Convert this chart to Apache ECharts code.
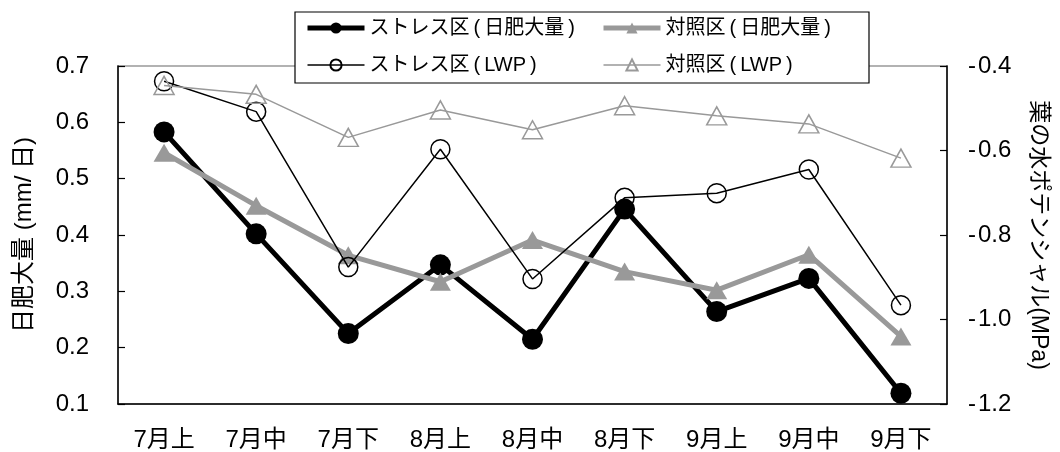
<!DOCTYPE html>
<html>
<head>
<meta charset="utf-8">
<script src="https://cdn.jsdelivr.net/npm/echarts@6/dist/echarts.min.js"></script>
<style>
  html, body { margin: 0; padding: 0; background: #fff; }
  #chart { width: 1060px; height: 452px; }
</style>
</head>
<body>
<div id="chart"></div>
<script>
// Ten-day periods (上旬・中旬・下旬) from July to September
const periods = ['7月上', '7月中', '7月下', '8月上', '8月中', '8月下', '9月上', '9月中', '9月下'];

// Daily stem growth (mm/日), left axis
const stressGrowth  = [0.583, 0.402, 0.225, 0.347, 0.215, 0.446, 0.264, 0.323, 0.119];
const controlGrowth = [0.546, 0.452, 0.364, 0.317, 0.391, 0.335, 0.302, 0.365, 0.220];

// Leaf water potential (MPa), right axis
const stressLWP  = [-0.436, -0.508, -0.876, -0.597, -0.904, -0.712, -0.701, -0.645, -0.966];
const controlLWP = [-0.446, -0.467, -0.569, -0.504, -0.551, -0.494, -0.518, -0.537, -0.618];

// Series names (thin spaces around the brackets)
const seriesNames = [
  'ストレス区\u2009(\u2009日肥大量\u2009)',
  '対照区\u2009(\u2009日肥大量\u2009)',
  'ストレス区\u2009(\u2009LWP\u2009)',
  '対照区\u2009(\u2009LWP\u2009)'
];

const FONT = '"Liberation Sans", Arial, "Noto Sans CJK JP", sans-serif';
const GRAY = '#999999';

const chart = echarts.init(document.getElementById('chart'), null, { renderer: 'canvas' });

const legendText = { color: '#000', fontFamily: FONT, fontSize: 20, lineHeight: 26 };
const legendBase = {
  z: 60, orient: 'vertical', top: 15, padding: 0,
  itemWidth: 57, itemHeight: 14, itemGap: 11,
  textStyle: legendText
};

chart.setOption({
  animation: false,
  backgroundColor: '#fff',
  textStyle: { fontFamily: FONT },
  grid: {
    left: 118, right: 113, top: 66, bottom: 48,
    show: true, borderColor: GRAY, borderWidth: 1.5, backgroundColor: 'transparent'
  },
  graphic: [{
    type: 'rect', z: 50,
    shape: { x: 295, y: 12, width: 574, height: 71 },
    style: { fill: '#fff', stroke: '#000', lineWidth: 1.2 }
  }],
  legend: [Object.assign({}, legendBase, {
    left: 305,
    data: [
      { name: seriesNames[0], lineStyle: { width: 5 } },
      { name: seriesNames[2], lineStyle: { width: 1.5 } }
    ]
  }), Object.assign({}, legendBase, {
    left: 601,
    data: [
      { name: seriesNames[1], lineStyle: { width: 5 } },
      { name: seriesNames[3], lineStyle: { width: 1.5 } }
    ]
  })],
  xAxis: {
    type: 'category',
    data: periods,
    boundaryGap: true,
    axisLine: { lineStyle: { color: '#000', width: 1.5 } },
    axisTick: { inside: true, length: 7, lineStyle: { color: '#000', width: 1.2 } },
    axisLabel: { color: '#000', fontSize: 24, margin: 24, fontFamily: FONT },
    splitLine: { show: false }
  },
  yAxis: [{
    type: 'value',
    position: 'left',
    min: 0.1, max: 0.7, interval: 0.1,
    name: '日肥大量 (mm/ 日)',
    nameLocation: 'middle',
    nameGap: 82,
    nameRotate: 90,
    nameTextStyle: { color: '#000', fontSize: 24, fontFamily: FONT },
    axisLine: { show: true, lineStyle: { color: '#000', width: 1.5 } },
    axisTick: { show: true, inside: true, length: 7, lineStyle: { color: '#000', width: 1.2 } },
    axisLabel: { color: '#000', fontSize: 24, margin: 29, fontFamily: FONT,
      formatter: v => v.toFixed(1) },
    splitLine: { show: false }
  }, {
    type: 'value',
    position: 'right',
    min: -1.2, max: -0.4, interval: 0.2,
    name: '葉の水ポテンシャル(MPa)',
    nameLocation: 'middle',
    nameGap: 80,
    nameRotate: -90,
    nameTextStyle: { color: '#000', fontSize: 23, fontFamily: FONT },
    axisLine: { show: true, lineStyle: { color: '#000', width: 1.5 } },
    axisTick: { show: true, inside: true, length: 7, lineStyle: { color: '#000', width: 1.2 } },
    axisLabel: { color: '#000', fontSize: 24, margin: 21, fontFamily: FONT,
      formatter: v => '-\u200A' + Math.abs(v).toFixed(1) },
    splitLine: { show: false }
  }],
  series: [{
    name: seriesNames[0],
    type: 'line',
    yAxisIndex: 0,
    data: stressGrowth,
    symbol: 'circle',
    symbolSize: 21,
    lineStyle: { color: '#000', width: 5 },
    itemStyle: { color: '#000' },
    z: 2
  }, {
    name: seriesNames[1],
    type: 'line',
    yAxisIndex: 0,
    data: controlGrowth,
    symbol: 'triangle',
    symbolSize: [21, 18],
    lineStyle: { color: GRAY, width: 5 },
    itemStyle: { color: GRAY },
    z: 3
  }, {
    name: seriesNames[2],
    type: 'line',
    yAxisIndex: 1,
    data: stressLWP,
    symbol: 'circle',
    symbolSize: 19,
    lineStyle: { color: '#000', width: 1.5 },
    itemStyle: { color: 'rgba(255,255,255,0)', borderColor: '#000', borderWidth: 1.5 },
    z: 4
  }, {
    name: seriesNames[3],
    type: 'line',
    yAxisIndex: 1,
    data: controlLWP,
    symbol: 'triangle',
    symbolSize: [20, 18],
    lineStyle: { color: GRAY, width: 1.5 },
    itemStyle: { color: 'rgba(255,255,255,0)', borderColor: GRAY, borderWidth: 1.5 },
    z: 5
  }]
});
</script>
</body>
</html>
